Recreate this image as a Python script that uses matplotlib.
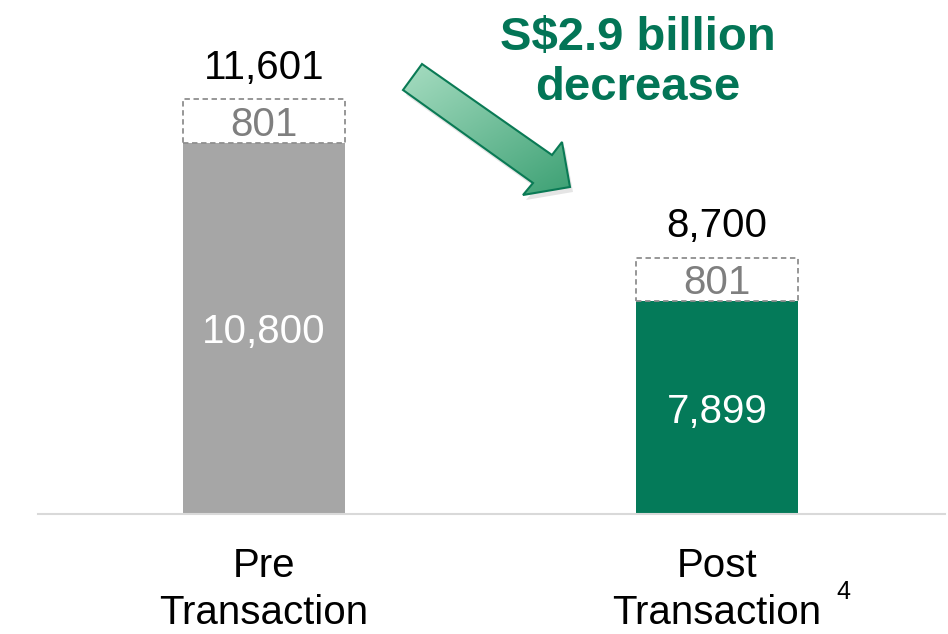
import numpy as np
import matplotlib.pyplot as plt
from matplotlib.patches import Polygon

plt.rcParams['font.family'] = ['Liberation Sans', 'DejaVu Sans']

# data
categories = ['Pre\nTransaction', 'Post\nTransaction']
base_values = [10800, 7899]
extra_values = [801, 801]
totals = [11601, 8700]
headline = 'S$2.9 billion\ndecrease'

bar_colors = ['#A6A6A6', '#047A59']
green_text = '#037556'

fig = plt.figure(figsize=(9.48, 6.34), dpi=100)
W, H = 948, 634
ax = fig.add_axes([38 / W, (H - 514) / H, (945 - 38) / W, 514 / H])

x = np.arange(len(categories))
ymin = 4000
ax.set_ylim(ymin, ymin + 514 / 0.05456)
ax.set_xlim(-0.499, 1.503)
width = 0.358

ax.bar(x, np.array(base_values) - ymin, bottom=ymin, width=width, color=bar_colors, zorder=2)
ax.bar(x, extra_values, bottom=base_values, width=width, facecolor='white',
       edgecolor='#8F8F8F', linestyle=(0, (3, 2)), linewidth=1.3, zorder=2)

for i in range(len(x)):
    ax.text(x[i], (ymin + base_values[i]) / 2, f'{base_values[i]:,}', ha='center',
            va='center_baseline', fontsize=29, color='white')
    ax.text(x[i], base_values[i] + extra_values[i] / 2, f'{extra_values[i]:,}', ha='center',
            va='center_baseline', fontsize=29, color='#7F7F7F', zorder=3)
    ax.annotate(f'{totals[i]:,}', (x[i], totals[i]), xytext=(0, 9), textcoords='offset points',
                ha='center', va='bottom', fontsize=29, color='black')

ax.set_xticks(x)
ax.set_xticklabels(categories, fontsize=29, linespacing=1.28)
ax.tick_params(axis='x', length=0, pad=24)
ax.set_yticks([])
for s in ['top', 'right', 'left']:
    ax.spines[s].set_visible(False)
ax.spines['bottom'].set_color('#D9D9D9')
ax.spines['bottom'].set_linewidth(1.5)

# footnote marker
fig.text(843 / W, 1 - 592 / H, '4', fontsize=18, ha='center', va='center')

# headline
fig.text(638 / W, 1 - 63 / H, headline, fontsize=34, fontweight='bold', color=green_text,
         ha='center', va='center', linespacing=1.17)

# arrow overlay
ov = fig.add_axes([0, 0, 1, 1], zorder=5)
ov.set_xlim(0, W)
ov.set_ylim(H, 0)
ov.axis('off')
arrow_pts = [(403, 90), (422, 64), (552, 155), (562, 142), (570, 187), (523, 195), (533, 183)]
shadow = Polygon([(px + 3, py + 5) for px, py in arrow_pts], closed=True,
                 facecolor='#000000', alpha=0.10, edgecolor='none')
ov.add_patch(shadow)
arrow = Polygon(arrow_pts, closed=True, facecolor='none', edgecolor='#0A7A55', linewidth=1.5, zorder=2)
ov.add_patch(arrow)
# gradient across the shaft: lighter top, darker bottom
gx, gy = np.meshgrid(np.linspace(0, 1, 200), np.linspace(0, 1, 200))
grad = 0.45 * gx + 0.55 * gy
cmap = plt.matplotlib.colors.LinearSegmentedColormap.from_list('g', ['#A9DEC3', '#3A9F72'])
img = ov.imshow(grad, extent=[400, 575, 198, 60], cmap=cmap, aspect='auto', zorder=1)
fill = Polygon(arrow_pts, closed=True, facecolor='none', edgecolor='none')
ov.add_patch(fill)
img.set_clip_path(fill)
ov.set_xlim(0, W)
ov.set_ylim(H, 0)

fig.savefig('out.png', dpi=100)
